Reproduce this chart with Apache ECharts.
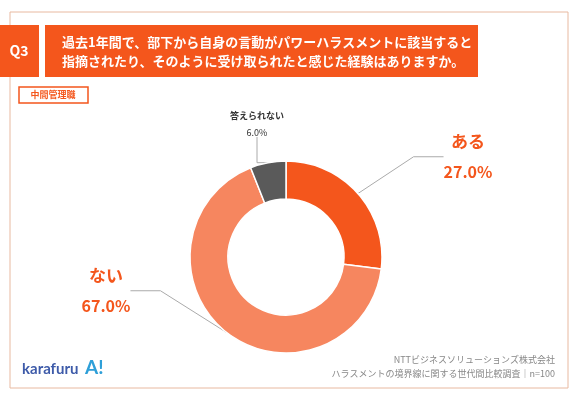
<!DOCTYPE html><html><head><meta charset="utf-8">
<script src="https://cdn.jsdelivr.net/npm/echarts@6/dist/echarts.min.js"></script>
<style>body{margin:0;background:#fff}#c{width:579px;height:400px}</style></head><body><div id="c"></div>
<script>
const categories=['ある','ない','答えられない'];
const values=[27.0,67.0,6.0];
const colors=['#F4561C','#F6865F','#5A5A5A'];
const title1='過去1年間で、部下から自身の言動がパワーハラスメントに該当すると';
const title2='指摘されたり、そのように受け取られたと感じた経験はありますか。';
const F='"Noto Sans CJK JP"';
const labelPos=[{x:468,y:156,big:true},{x:106,y:290,big:true},{x:257,y:124,big:false}];
const chart=echarts.init(document.getElementById('c'));
chart.setOption({
 animation:false,
 graphic:[
  {type:'rect',shape:{x:10,y:12,width:558,height:376},style:{fill:'none',stroke:'#E8B9A0',lineWidth:1}},
  {type:'rect',shape:{x:0,y:25,width:39,height:52},style:{fill:'#F4561C'}},
  {type:'text',x:19,y:51,style:{text:'Q3',fill:'#fff',font:'bold 14px '+F,align:'center',verticalAlign:'middle'}},
  {type:'rect',shape:{x:45,y:25,width:433,height:52},style:{fill:'#F4561C'}},
  {type:'text',x:62,y:42,style:{text:title1,fill:'#fff',font:'bold 13px '+F,verticalAlign:'middle'}},
  {type:'text',x:62,y:61,style:{text:title2,fill:'#fff',font:'bold 13px '+F,verticalAlign:'middle'}},
  {type:'rect',shape:{x:19,y:87,width:69,height:16},style:{fill:'#fff',stroke:'#F4561C',lineWidth:1.5}},
  {type:'text',x:53,y:95,style:{text:'中間管理職',fill:'#F4561C',font:'bold 9px '+F,align:'center',verticalAlign:'middle'}},
  {type:'text',x:22,y:369,style:{text:'karafuru',fill:'#3E5BA9',font:'bold 15px Lato',verticalAlign:'middle'}},
  {type:'text',x:85,y:368,style:{text:'A!',fill:'#2E9FD8',font:'bold 19px Lato',verticalAlign:'middle'}},
  {type:'text',x:555,y:360,style:{text:'NTTビジネスソリューションズ株式会社',fill:'#888',font:'9px '+F,align:'right',verticalAlign:'middle'}},
  {type:'text',x:555,y:374,style:{text:'ハラスメントの境界線に関する世代間比較調査｜n=100',fill:'#888',font:'9px '+F,align:'right',verticalAlign:'middle'}}
 ],
 series:[{type:'pie',center:[286,257],radius:[58,96],startAngle:90,clockwise:true,
  data:categories.map((n,i)=>({name:n,value:values[i],itemStyle:{color:colors[i]}})),
  itemStyle:{borderColor:'#fff',borderWidth:1.5},
  label:{formatter:p=>labelPos[p.dataIndex].big?'{b|'+p.name+'}\n{v|'+p.value.toFixed(1)+'%}':'{s|'+p.name+'}\n{t|'+p.value.toFixed(1)+'%}',
   rich:{b:{fontFamily:F,fontSize:17,fontWeight:'bold',color:'#F4561C',lineHeight:32},v:{fontFamily:F,fontSize:16,fontWeight:'bold',color:'#F4561C',lineHeight:28},
   s:{fontFamily:F,fontSize:9,fontWeight:'bold',color:'#333',lineHeight:17},t:{fontFamily:F,fontSize:9,color:'#333',lineHeight:17}},align:'center'},
  labelLine:{show:true,lineStyle:{color:'#aaa',width:1}},
  labelLayout:p=>({x:labelPos[p.dataIndex].x,y:labelPos[p.dataIndex].y,align:'center',verticalAlign:'middle'})
 }]
});
</script></body></html>
